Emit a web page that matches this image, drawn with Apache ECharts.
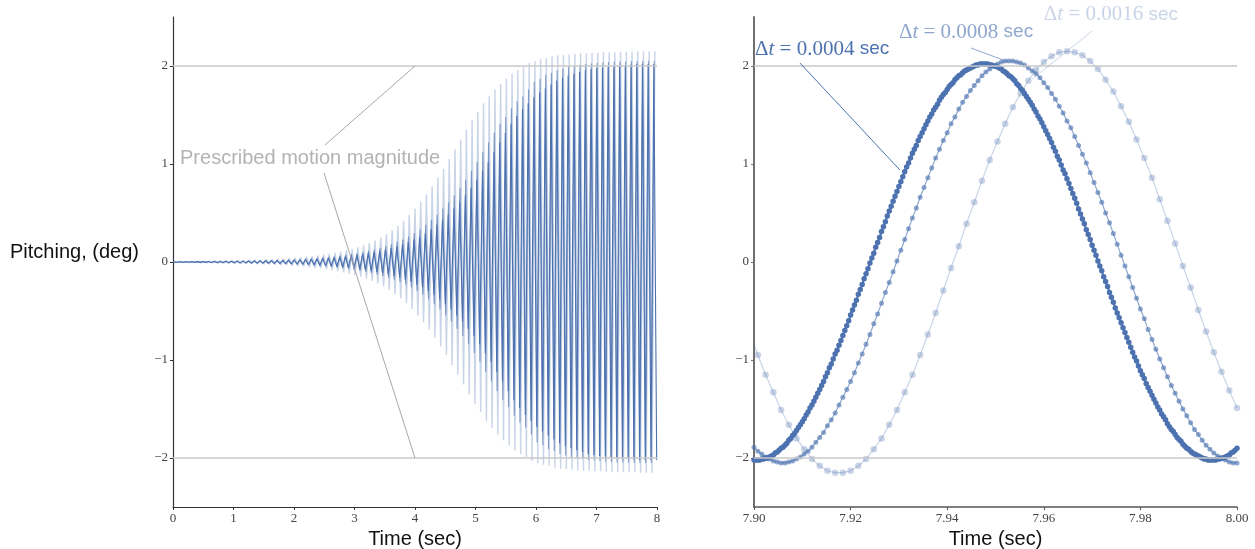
<!DOCTYPE html>
<html>
<head>
<meta charset="utf-8">
<script src="https://cdn.jsdelivr.net/npm/echarts@6/dist/echarts.min.js"></script>
<style>
  html, body { margin: 0; padding: 0; background: #ffffff; }
  #chart { width: 1255px; height: 549px; }
</style>
</head>
<body>
<div id="chart"></div>
<script>
// ---- Full run (0-8 s): amplitude of each oscillation cycle, one value per cycle ----
const cycleAmpDt0004 = [
  0.002,0.002,0.003,0.003,0.004,0.004,0.005,0.005,0.006,0.007,
  0.008,0.009,0.009,0.010,0.011,0.012,0.013,0.014,0.015,0.017,
  0.019,0.021,0.023,0.026,0.029,0.033,0.037,0.041,0.046,0.051,
  0.057,0.064,0.072,0.081,0.090,0.101,0.113,0.127,0.142,0.160,
  0.180,0.203,0.230,0.260,0.295,0.335,0.380,0.430,0.485,0.545,
  0.610,0.680,0.755,0.840,0.930,1.020,1.120,1.220,1.320,1.410,
  1.490,1.560,1.620,1.680,1.730,1.770,1.810,1.850,1.880,1.900,
  1.920,1.940,1.960,1.970,1.980,1.985,1.990,2.000,2.005,2.010,
  2.015,2.020,2.020,2.020,2.020
];
const cycleAmpDt0008 = [
  0.002,0.003,0.003,0.004,0.004,0.005,0.006,0.007,0.008,0.009,
  0.009,0.010,0.011,0.012,0.013,0.014,0.015,0.017,0.019,0.021,
  0.023,0.026,0.029,0.033,0.037,0.041,0.046,0.051,0.057,0.064,
  0.072,0.081,0.090,0.101,0.113,0.127,0.142,0.160,0.180,0.203,
  0.230,0.260,0.295,0.335,0.380,0.430,0.485,0.545,0.610,0.680,
  0.755,0.840,0.930,1.020,1.120,1.220,1.320,1.410,1.480,1.570,
  1.640,1.690,1.760,1.840,1.870,1.910,1.930,1.960,1.975,1.990,
  2.000,2.010,2.020,2.025,2.030,2.035,2.040,2.045,2.045,2.045,
  2.050,2.050,2.050,2.050,2.050
];
const cycleAmpDt0016 = [
  0.004,0.005,0.006,0.007,0.008,0.009,0.010,0.011,0.012,0.013,
  0.014,0.015,0.016,0.018,0.020,0.022,0.024,0.027,0.030,0.034,
  0.038,0.042,0.047,0.053,0.059,0.066,0.074,0.083,0.093,0.105,
  0.118,0.133,0.150,0.170,0.193,0.220,0.250,0.285,0.325,0.370,
  0.420,0.480,0.545,0.615,0.690,0.770,0.860,0.950,1.050,1.150,
  1.250,1.350,1.450,1.530,1.620,1.690,1.760,1.820,1.870,1.920,
  1.960,1.990,2.030,2.050,2.070,2.080,2.100,2.110,2.115,2.120,
  2.125,2.130,2.130,2.135,2.135,2.140,2.140,2.140,2.145,2.145,
  2.145,2.150,2.150,2.150,2.150
];
// time between successive peak and trough, and time of the first peak of each run (s)
const halfPeriod = 0.0472;
const firstPeak = { dt0004: 0.0181, dt0008: 0.0236, dt0016: 0.0352 };

// ---- Close-up (7.90-8.00 s): every time step of each run ----
const stepDt0004 = 0.0004, startDt0004 = 7.9000;
const pitchDt0004 = [
  -2.02,-2.02,-2.02,-2.02,-2.01,-2.01,-2.00,-2.00,-1.99,-1.98,
  -1.97,-1.95,-1.94,-1.92,-1.90,-1.89,-1.87,-1.85,-1.82,-1.80,
  -1.77,-1.75,-1.72,-1.69,-1.66,-1.63,-1.60,-1.56,-1.53,-1.49,
  -1.46,-1.42,-1.38,-1.34,-1.30,-1.26,-1.22,-1.17,-1.13,-1.08,
  -1.04,-0.99,-0.94,-0.90,-0.85,-0.80,-0.75,-0.70,-0.65,-0.60,
  -0.54,-0.49,-0.44,-0.39,-0.33,-0.28,-0.23,-0.17,-0.12,-0.07,
  -0.01,0.04,0.09,0.15,0.20,0.25,0.31,0.36,0.41,0.47,
  0.52,0.57,0.62,0.67,0.72,0.77,0.82,0.87,0.92,0.97,
  1.01,1.06,1.11,1.15,1.19,1.24,1.28,1.32,1.36,1.40,
  1.44,1.48,1.51,1.55,1.58,1.61,1.65,1.68,1.71,1.73,
  1.76,1.79,1.81,1.83,1.86,1.88,1.90,1.91,1.93,1.95,
  1.96,1.97,1.98,1.99,2.00,2.01,2.01,2.02,2.02,2.02,
  2.02,2.02,2.01,2.01,2.00,2.00,1.99,1.98,1.97,1.95,
  1.94,1.92,1.90,1.89,1.87,1.85,1.82,1.80,1.77,1.75,
  1.72,1.69,1.66,1.63,1.60,1.56,1.53,1.49,1.46,1.42,
  1.38,1.34,1.30,1.26,1.22,1.17,1.13,1.08,1.04,0.99,
  0.94,0.90,0.85,0.80,0.75,0.70,0.65,0.60,0.54,0.49,
  0.44,0.39,0.33,0.28,0.23,0.17,0.12,0.07,0.01,-0.04,
  -0.09,-0.15,-0.20,-0.25,-0.31,-0.36,-0.41,-0.47,-0.52,-0.57,
  -0.62,-0.67,-0.72,-0.77,-0.82,-0.87,-0.92,-0.97,-1.01,-1.06,
  -1.11,-1.15,-1.19,-1.24,-1.28,-1.32,-1.36,-1.40,-1.44,-1.48,
  -1.51,-1.55,-1.58,-1.61,-1.65,-1.68,-1.71,-1.73,-1.76,-1.79,
  -1.81,-1.83,-1.86,-1.88,-1.90,-1.91,-1.93,-1.95,-1.96,-1.97,
  -1.98,-1.99,-2.00,-2.01,-2.01,-2.02,-2.02,-2.02,-2.02,-2.02,
  -2.01,-2.01,-2.00,-2.00,-1.99,-1.98,-1.97,-1.95,-1.94,-1.92,-1.90
];
const stepDt0008 = 0.0008, startDt0008 = 7.9000;
const pitchDt0008 = [
  -1.89,-1.93,-1.96,-1.99,-2.01,-2.03,-2.04,-2.05,-2.05,-2.04,
  -2.03,-2.01,-1.99,-1.96,-1.93,-1.89,-1.84,-1.79,-1.74,-1.67,
  -1.61,-1.54,-1.46,-1.38,-1.30,-1.22,-1.13,-1.03,-0.94,-0.84,
  -0.74,-0.63,-0.53,-0.42,-0.31,-0.21,-0.10,0.01,0.12,0.23,
  0.34,0.45,0.55,0.66,0.76,0.86,0.96,1.06,1.15,1.24,
  1.32,1.41,1.48,1.56,1.63,1.69,1.75,1.80,1.85,1.90,
  1.94,1.97,2.00,2.02,2.04,2.05,2.05,2.05,2.04,2.03,
  2.01,1.98,1.95,1.92,1.88,1.83,1.78,1.72,1.66,1.59,
  1.52,1.44,1.37,1.28,1.19,1.10,1.01,0.91,0.81,0.71,
  0.61,0.50,0.40,0.29,0.18,0.07,-0.04,-0.15,-0.26,-0.37,
  -0.48,-0.58,-0.69,-0.79,-0.89,-0.99,-1.08,-1.17,-1.26,-1.34,
  -1.42,-1.50,-1.57,-1.64,-1.71,-1.76,-1.82,-1.87,-1.91,-1.95,
  -1.98,-2.00,-2.02,-2.04,-2.05,-2.05
];
const stepDt0016 = 0.0016, startDt0016 = 7.8992;
const pitchDt0016 = [
  -0.74,-0.95,-1.15,-1.33,-1.51,-1.66,-1.80,-1.91,-2.01,-2.08,
  -2.13,-2.15,-2.15,-2.13,-2.08,-2.01,-1.91,-1.80,-1.66,-1.51,
  -1.33,-1.15,-0.95,-0.74,-0.52,-0.29,-0.06,0.16,0.39,0.61,
  0.83,1.04,1.23,1.41,1.58,1.72,1.85,1.96,2.04,2.10,
  2.14,2.15,2.14,2.11,2.05,1.97,1.86,1.74,1.59,1.43,
  1.25,1.06,0.86,0.64,0.42,0.19,-0.04,-0.26,-0.49,-0.71,
  -0.92,-1.12,-1.31,-1.49
];

// Prescribed motion magnitude (deg) and axis tick values
const prescribedMagnitude = 2;
const pitchTicks = [-2, -1, 0, 1, 2];
const fullTimeRange = [0, 8];
const zoomTimeRange = [7.90, 8.00];

// ---- helpers ----
// Build the peak/trough sequence of a run from its per-cycle amplitudes
function extremaSeries(amps, tFirst) {
  const pts = [[0, 0]];
  for (let n = 0; n < amps.length * 2; n++) {
    const t = tFirst + n * halfPeriod;
    if (t > fullTimeRange[1]) break;
    pts.push([t, (n % 2 === 0 ? 1 : -1) * amps[n >> 1]]);
  }
  return pts;
}
function sampled(values, t0, dt) {
  return values.map((v, i) => [+(t0 + i * dt).toFixed(4), v]);
}

const BLUE = '#4C72B0';
const BLUE_MID = 'rgba(76,114,176,0.62)';
const BLUE_LIGHT = 'rgba(76,114,176,0.3)';
const REF_GRAY = '#c9c9c9';

const minusFmt = v => (v < 0 ? '\u2212' + Math.abs(v) : String(v));
const tickFont = { fontFamily: 'Liberation Serif', fontSize: 13, color: '#444' };
const titleFont = { fontFamily: 'Liberation Sans', fontSize: 20, color: '#111' };

function xAxisCfg(gridIndex, range, interval, fmt, lineColor, lineWidth) {
  return {
    gridIndex, type: 'value', min: range[0], max: range[1], interval,
    axisLine: { show: true, onZero: false, lineStyle: { color: lineColor, width: lineWidth } },
    axisTick: { show: true, length: 3, lineStyle: { color: lineColor, width: 1 } },
    axisLabel: Object.assign({ margin: 5, formatter: fmt }, tickFont),
    splitLine: { show: false },
    name: 'Time (sec)', nameLocation: 'middle', nameGap: 17,
    nameTextStyle: titleFont
  };
}
function yAxisCfg(gridIndex, lineColor, lineWidth) {
  return {
    gridIndex, type: 'value', min: -2.5, max: 2.5,
    axisLine: { show: true, onZero: false, lineStyle: { color: lineColor, width: lineWidth } },
    axisTick: { show: true, length: 3, customValues: pitchTicks, lineStyle: { color: lineColor, width: 1 } },
    axisLabel: Object.assign({ margin: 5, customValues: pitchTicks, formatter: minusFmt }, tickFont),
    splitLine: { show: false }
  };
}
function refLines(extra) {
  return {
    silent: true, symbol: 'none', animation: false,
    label: { show: false },
    lineStyle: { color: REF_GRAY, width: 1.5, type: 'solid' },
    emphasis: { disabled: true },
    data: [{ yAxis: prescribedMagnitude }, { yAxis: -prescribedMagnitude }].concat(extra)
  };
}
function pointer(from, to, color) {
  return [
    { coord: from, lineStyle: { color, width: 1, type: 'solid' } },
    { coord: to }
  ];
}

const chart = echarts.init(document.getElementById('chart'), null, { renderer: 'canvas' });

const option = {
  animation: false,
  backgroundColor: '#ffffff',
  grid: [
    { left: 173, right: 598, top: 17, bottom: 42, containLabel: false, outerBoundsMode: 'none' },
    { left: 754, right: 18, top: 17, bottom: 42, containLabel: false, outerBoundsMode: 'none' }
  ],
  xAxis: [
    xAxisCfg(0, fullTimeRange, 1, v => String(v), '#333', 1.2),
    xAxisCfg(1, zoomTimeRange, 0.02, v => v.toFixed(2), '#555', 1.5)
  ],
  yAxis: [
    yAxisCfg(0, '#333', 1.2),
    yAxisCfg(1, '#707070', 2)
  ],
  series: [
    // reference lines and annotation pointers, full run
    {
      type: 'line', xAxisIndex: 0, yAxisIndex: 0, z: 1, silent: true,
      data: [[0, 0]], symbol: 'none', lineStyle: { opacity: 0 },
      markLine: refLines([
        pointer([2.512, 1.194], [4, prescribedMagnitude], '#a8a8a8'),
        pointer([2.496, 0.908], [4, -prescribedMagnitude], '#a8a8a8')
      ])
    },
    {
      name: 'dt0004', type: 'line', xAxisIndex: 0, yAxisIndex: 0, z: 2,
      data: extremaSeries(cycleAmpDt0004, firstPeak.dt0004),
      symbol: 'none', lineStyle: { color: BLUE, width: 1.1 }
    },
    {
      name: 'dt0008', type: 'line', xAxisIndex: 0, yAxisIndex: 0, z: 2,
      data: extremaSeries(cycleAmpDt0008, firstPeak.dt0008),
      symbol: 'none', lineStyle: { color: BLUE_MID, width: 1.1 }
    },
    {
      name: 'dt0016', type: 'line', xAxisIndex: 0, yAxisIndex: 0, z: 2,
      data: extremaSeries(cycleAmpDt0016, firstPeak.dt0016),
      symbol: 'none', lineStyle: { color: BLUE_LIGHT, width: 1.4 }
    },
    // reference lines and annotation pointers, close-up
    {
      type: 'line', xAxisIndex: 1, yAxisIndex: 1, z: 1, silent: true,
      data: [[7.95, 0]], symbol: 'none', lineStyle: { opacity: 0 },
      markLine: refLines([
        pointer([7.9095, 2.031], [7.9302, 0.939], BLUE),
        pointer([7.9449, 2.184], [7.9516, 2.061], BLUE_MID),
        pointer([7.9700, 2.357], [7.9576, 1.867], BLUE_LIGHT)
      ])
    },
    {
      name: 'zoom0004', type: 'line', xAxisIndex: 1, yAxisIndex: 1, z: 2,
      data: sampled(pitchDt0004, startDt0004, stepDt0004),
      symbol: 'circle', symbolSize: 5.5, showAllSymbol: true,
      itemStyle: { color: BLUE, borderWidth: 0 },
      lineStyle: { color: BLUE, width: 2 }
    },
    {
      name: 'zoom0008', type: 'line', xAxisIndex: 1, yAxisIndex: 1, z: 2,
      data: sampled(pitchDt0008, startDt0008, stepDt0008),
      symbol: 'circle', symbolSize: 5, showAllSymbol: true,
      itemStyle: { color: BLUE_MID, borderWidth: 0 },
      lineStyle: { color: BLUE_MID, width: 1.2 }
    },
    {
      name: 'zoom0016', type: 'line', xAxisIndex: 1, yAxisIndex: 1, z: 2,
      data: sampled(pitchDt0016, startDt0016, stepDt0016),
      symbol: 'circle', symbolSize: 6.5, showAllSymbol: true,
      itemStyle: { color: BLUE_LIGHT, borderWidth: 0 },
      lineStyle: { color: BLUE_LIGHT, width: 1.2 }
    }
  ]
};
chart.setOption(option);

// ---- text annotations, anchored in data coordinates ----
function at(gridIdx, pt) {
  return chart.convertToPixel({ xAxisIndex: gridIdx, yAxisIndex: gridIdx }, pt);
}
function dtLabel(gridIdx, pt, step, color) {
  const p = at(gridIdx, pt);
  return {
    type: 'text', x: p[0], y: p[1], silent: true, z: 10,
    style: {
      text: '{m|\u0394}{i|t}{m| = ' + step + ' }{s|sec}',
      verticalAlign: 'middle', align: 'left', fill: color,
      rich: {
        m: { fontFamily: 'Liberation Serif', fontSize: 21, fill: color },
        i: { fontFamily: 'Liberation Serif', fontStyle: 'italic', fontSize: 21, fill: color },
        s: { fontFamily: 'Liberation Sans', fontSize: 19, fill: color }
      }
    }
  };
}
const pm = at(0, [0.116, 1.061]);
chart.setOption({
  graphic: [
    {
      type: 'text', left: 10, top: 242, silent: true,
      style: { text: 'Pitching, (deg)', font: '20px "Liberation Sans"', fill: '#111' }
    },
    {
      type: 'text', x: pm[0], y: pm[1], silent: true,
      style: { text: 'Prescribed motion magnitude', font: '20px "Liberation Sans"', fill: '#b3b3b3', verticalAlign: 'middle', align: 'left' }
    },
    dtLabel(1, [7.9002, 2.173], '0.0004', BLUE),
    dtLabel(1, [7.9300, 2.347], '0.0008', '#8fa6cf'),
    dtLabel(1, [7.9600, 2.526], '0.0016', '#c9d4e8')
  ]
});
</script>
</body>
</html>
